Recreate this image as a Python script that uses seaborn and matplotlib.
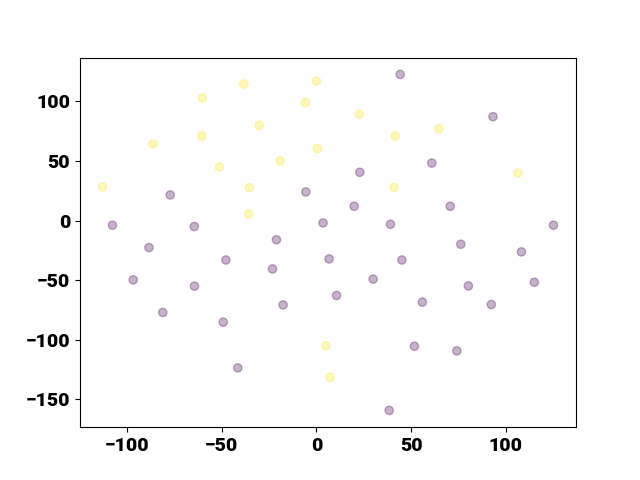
import matplotlib
matplotlib.use("Agg")
import matplotlib.pyplot as plt
import seaborn as sns
import pandas as pd

yellow_x = [-112.9, -86.2, -60.2, -38.3, 0.0, -5.8, -60.5, -30.2, -51.2, -19.2,
            0.5, -35.4, -35.7, 22.5, 41.4, 64.6, 41.0, 106.4, 5.0, 7.2]
yellow_y = [28.2, 64.3, 102.9, 114.6, 117.1, 99.0, 71.0, 79.9, 45.0, 50.0,
            60.4, 27.7, 5.5, 89.2, 71.0, 77.2, 27.9, 39.9, -105.2, -131.7]

purple_x = [44.2, 93.2, 60.9, 22.9, -5.6, -77.2, 70.6, 19.9, -107.7, -64.5,
            3.5, 39.1, 125.1, -88.4, -21.1, 76.2, 108.2, -47.8, 6.7, 45.1,
            -96.7, -23.2, 29.9, 115.0, -64.4, 80.2, 10.6, -17.6, 55.9, 92.3,
            -81.1, -49.2, 51.7, 74.1, -41.5, 38.4]
purple_y = [122.7, 87.2, 48.3, 40.5, 24.0, 21.5, 12.0, 12.0, -3.9, -5.0,
            -2.0, -3.1, -3.9, -22.7, -16.1, -19.9, -26.3, -33.1, -32.2, -33.1,
            -49.8, -40.6, -49.2, -51.8, -55.1, -54.9, -62.9, -70.8, -68.5, -70.5,
            -77.2, -85.3, -105.5, -109.4, -123.7, -159.4]

df = pd.DataFrame({
    "x": purple_x + yellow_x,
    "y": purple_y + yellow_y,
    "label": [0] * len(purple_x) + [1] * len(yellow_x),
})

plt.rcParams["font.family"] = ["Roboto", "DejaVu Sans"]
plt.rcParams["font.weight"] = "bold"

fig, ax = plt.subplots(figsize=(6.4, 4.8), dpi=100)
sns.scatterplot(data=df, x="x", y="y", hue="label",
                palette={0: "#440154", 1: "#fde725"}, alpha=0.3,
                edgecolor="face", linewidth=1, s=36, legend=False, ax=ax)
ax.set_xlabel("")
ax.set_ylabel("")
ax.tick_params(labelsize=14)
for lab in ax.get_xticklabels() + ax.get_yticklabels():
    lab.set_fontweight(900)
fig.savefig("out.png", dpi=100)
